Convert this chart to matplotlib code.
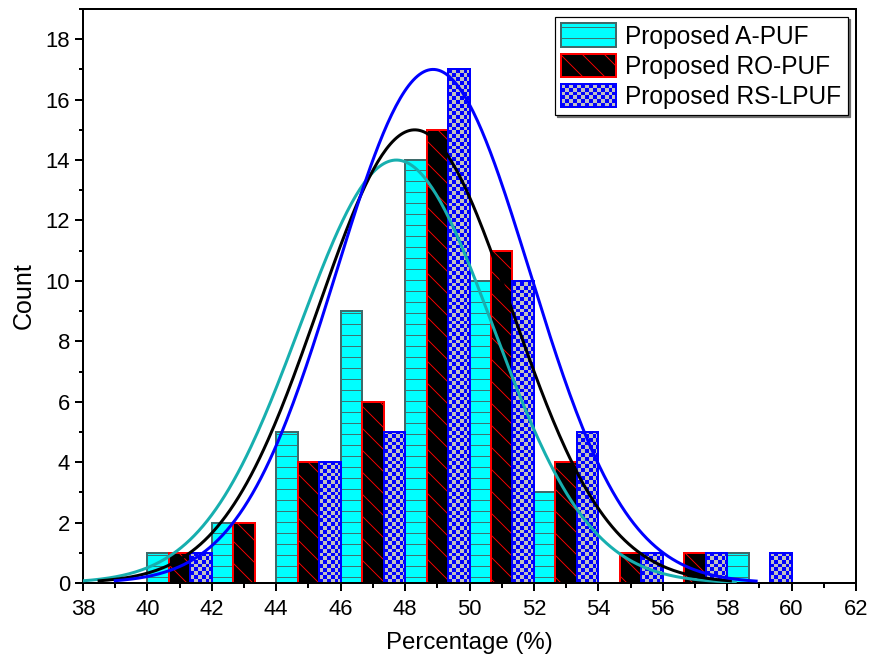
import numpy as np
import matplotlib
matplotlib.use('Agg')
import matplotlib.pyplot as plt
from matplotlib.patches import Patch, Rectangle
from matplotlib.colors import ListedColormap
from matplotlib.legend_handler import HandlerBase
from matplotlib.ticker import MultipleLocator

DPI = 66
plt.rcParams['font.family'] = ['Liberation Sans', 'DejaVu Sans']
plt.rcParams['hatch.linewidth'] = 1.0

# histogram counts, one bin every 2 %
bins = np.array([40, 42, 44, 46, 48, 50, 52, 54, 56, 58])
a_puf = [1, 2, 5, 9, 14, 10, 3, 0, 0, 1]
ro_puf = [1, 2, 4, 6, 15, 11, 4, 1, 1, 0]
rs_lpuf = [1, 0, 4, 5, 17, 10, 5, 1, 1, 1]
labels = ['Proposed A-PUF', 'Proposed RO-PUF', 'Proposed RS-LPUF']

# normal fit curves: centre, peak, sigma, x range
fit_mu = [47.73, 48.3, 48.87]
fit_peak = [14, 15, 17]
fit_sigma = [3.0, 3.0, 3.0]
fit_x0 = [38.0, 38.5, 39.0]
fit_x1 = [58.25, 58.1, 58.9]
fit_colors = ['#17AFAF', 'black', '#0000FF']


def px(v):
    # pixel size -> points at this dpi
    return v * 72 / DPI


class CheckerHandler(HandlerBase):
    def create_artists(self, legend, orig_handle, xdescent, ydescent,
                       width, height, fontsize, trans):
        cell = px(3.8)
        nx = max(1, int(round(width / cell)))
        ny = max(1, int(round(height / cell)))
        cw, ch = width / nx, height / ny
        arts = []
        for i in range(ny):
            for j in range(nx):
                c = '#0000FF' if (i + j) % 2 == 0 else '#C0C0C0'
                arts.append(Rectangle((-xdescent + j * cw, -ydescent + i * ch), cw, ch,
                                      facecolor=c, edgecolor='none', transform=trans))
        arts.append(Rectangle((-xdescent, -ydescent), width, height, facecolor='none',
                              edgecolor='#0000FF', lw=px(2), transform=trans))
        return arts


fig = plt.figure(figsize=(871 / DPI, 661 / DPI), dpi=DPI)
ax = fig.add_axes([83 / 871, 78 / 661, 773 / 871, 574 / 661])

w = 2 / 3
xmin, xmax, ymin, ymax = 38, 62, 0, 19

ax.bar(bins, a_puf, width=w, align='edge', facecolor='#00FFFF',
       edgecolor='#3F6A6A', linewidth=px(2), hatch='-', zorder=1)
ax.bar(bins + w, ro_puf, width=w, align='edge', facecolor='black',
       edgecolor='red', linewidth=px(2), hatch='\\', zorder=1)
rs_bars = ax.bar(bins + 2 * w, rs_lpuf, width=w, align='edge', facecolor='none',
                 edgecolor='#0000FF', linewidth=px(2), zorder=2)

# checkerboard fill for RS-LPUF bars
cell_x = 3.8 / (773 / (xmax - xmin))
cell_y = 3.8 / (574 / (ymax - ymin))
cmap = ListedColormap(['#0000FF', '#C0C0C0'])
for rect, x, h in zip(rs_bars, bins + 2 * w, rs_lpuf):
    if h == 0:
        continue
    nx = int(np.ceil(w / cell_x))
    ny = int(np.ceil(h / cell_y))
    checker = np.add.outer(np.arange(ny), np.arange(nx)) % 2
    im = ax.imshow(checker, cmap=cmap, extent=(x, x + nx * cell_x, 0, ny * cell_y),
                   origin='lower', interpolation='nearest', aspect='auto', zorder=1.5)
    im.set_clip_path(rect)

for mu, pk, sg, x0, x1, c in zip(fit_mu, fit_peak, fit_sigma, fit_x0, fit_x1, fit_colors):
    xs = np.linspace(x0, x1, 300)
    ax.plot(xs, pk * np.exp(-(xs - mu) ** 2 / (2 * sg ** 2)), color=c, lw=px(3), zorder=3)

ax.set_xlim(xmin, xmax)
ax.set_ylim(ymin, ymax)
ax.xaxis.set_major_locator(MultipleLocator(2))
ax.xaxis.set_minor_locator(MultipleLocator(1))
ax.yaxis.set_major_locator(MultipleLocator(2))
ax.yaxis.set_minor_locator(MultipleLocator(1))
ax.tick_params(which='major', direction='out', length=px(8), width=px(2),
               labelsize=px(22), pad=px(5))
ax.tick_params(axis='x', which='major', pad=px(8))
ax.tick_params(which='minor', direction='out', length=px(4.5), width=px(2))
for s in ax.spines.values():
    s.set_linewidth(px(2))

ax.set_xlabel('Percentage (%)', fontsize=px(24), labelpad=px(12))
ax.set_ylabel('Count', fontsize=px(25), labelpad=px(10))

handles = [Patch(facecolor='#00FFFF', edgecolor='#3F6A6A', hatch='-', lw=px(2)),
           Patch(facecolor='black', edgecolor='red', hatch='\\', lw=px(2)),
           Patch(facecolor='#C0C0C0', edgecolor='#0000FF')]
fs = px(24.5)
leg = ax.legend(handles, labels, loc='upper right', fontsize=fs, frameon=True,
                fancybox=False, framealpha=1, edgecolor='black',
                shadow={'color': '#707070', 'alpha': 1},
                handlelength=px(55) / fs, handleheight=px(27) / fs,
                handletextpad=px(9) / fs, borderpad=px(6.5) / fs,
                labelspacing=px(5) / fs, borderaxespad=px(8) / fs,
                handler_map={handles[2]: CheckerHandler()})
leg.get_frame().set_linewidth(px(1.2))

fig.savefig('out.png', dpi=DPI)
